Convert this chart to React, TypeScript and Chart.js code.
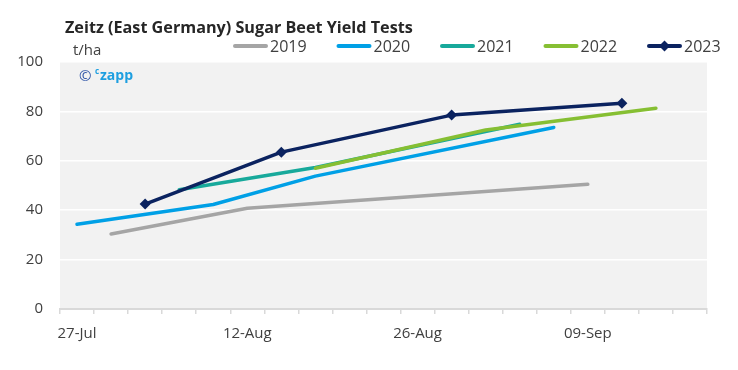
import React, { useEffect, useRef } from 'react';
import { Chart, registerables } from 'chart.js';

Chart.register(...registerables);

const categories = ['27-Jul', '', '', '', '', '12-Aug', '', '', '', '', '26-Aug', '', '', '', '', '09-Sep', '', '', ''];
const seriesNames = ['2019', '2020', '2021', '2022', '2023'];
const y2019 = [null, 30.4, null, null, null, 40.8, null, null, null, null, null, null, null, null, null, 50.5, null, null, null];
const y2020 = [34.3, null, null, null, 42.3, null, null, 53.8, null, null, null, null, null, null, 73.5, null, null, null, null];
const y2021 = [null, null, null, 48.3, null, null, null, 57.3, null, null, null, null, null, 74.8, null, null, null, null, null];
const y2022 = [null, null, null, null, null, null, null, 57.0, null, null, null, null, 72.5, null, null, null, null, 81.3, null];
const y2023 = [null, null, 42.5, null, null, null, 63.5, null, null, null, null, 78.5, null, null, null, null, 83.3, null, null];
const yTicks = [0, 20, 40, 60, 80, 100];

const colors = ['#a5a5a5', '#00a0e6', '#17a99b', '#86bf33', '#0b2360'];
const FONT = "'Open Sans', sans-serif";

const decorPlugin = {
  id: 'decor',
  beforeDraw(chart: any) {
    const { ctx, chartArea } = chart;
    ctx.save();
    ctx.fillStyle = '#f2f2f2';
    ctx.fillRect(chartArea.left, chartArea.top, chartArea.right - chartArea.left, chartArea.bottom - chartArea.top);
    ctx.restore();
  },
  afterDraw(chart: any) {
    const { ctx } = chart;
    ctx.save();
    // title
    ctx.fillStyle = '#262626';
    ctx.font = `bold 16.2px ${FONT}`;
    ctx.textBaseline = 'alphabetic';
    ctx.textAlign = 'left';
    ctx.fillText('Zeitz (East Germany) Sugar Beet Yield Tests', 65, 33);
    // unit
    ctx.fillStyle = '#404040';
    ctx.font = `15px ${FONT}`;
    ctx.fillText('t/ha', 73, 55);
    // watermark
    ctx.fillStyle = '#2f55a8';
    ctx.font = `15px ${FONT}`;
    ctx.fillText('©', 79, 81);
    ctx.fillStyle = '#1e9fe0';
    ctx.font = `bold 8px ${FONT}`;
    ctx.fillText('c', 95, 74);
    ctx.font = `bold 14px ${FONT}`;
    ctx.fillText('zapp', 100, 80);
    // legend
    const y = 46;
    chart.data.datasets.forEach((ds: any, i: number) => {
      const x0 = 233 + i * 103.5;
      ctx.strokeStyle = ds.borderColor;
      ctx.lineWidth = 4;
      ctx.lineCap = 'round';
      ctx.beginPath();
      ctx.moveTo(x0 + 2, y);
      ctx.lineTo(x0 + 33, y);
      ctx.stroke();
      if (ds.pointRadius > 0) {
        const r = 5.5;
        const cx = x0 + 17.5;
        ctx.fillStyle = ds.borderColor;
        ctx.beginPath();
        ctx.moveTo(cx, y - r);
        ctx.lineTo(cx + r, y);
        ctx.lineTo(cx, y + r);
        ctx.lineTo(cx - r, y);
        ctx.closePath();
        ctx.fill();
      }
      ctx.fillStyle = '#404040';
      ctx.font = `16px ${FONT}`;
      ctx.textBaseline = 'middle';
      ctx.fillText(ds.label, x0 + 37, y + 1);
    });
    ctx.restore();
  },
};

export default function App() {
  const canvasRef = useRef<HTMLCanvasElement>(null);
  useEffect(() => {
    const series = [y2019, y2020, y2021, y2022, y2023];
    const chart = new Chart(canvasRef.current as HTMLCanvasElement, {
      type: 'line',
      data: {
        labels: categories,
        datasets: series.map((d, i) => ({
          label: seriesNames[i],
          data: d,
          borderColor: colors[i],
          backgroundColor: colors[i],
          borderWidth: 3.5,
          borderCapStyle: 'round',
          borderJoinStyle: 'round',
          pointRadius: i === 4 ? 5.5 : 0,
          pointHoverRadius: i === 4 ? 5.5 : 0,
          pointStyle: 'rectRot',
          pointBorderWidth: 0,
          spanGaps: true,
          tension: 0,
          order: 5 - i,
        })),
      },
      options: {
        animation: false,
        responsive: false,
        maintainAspectRatio: false,
        layout: { padding: { top: 62, right: 31, left: 0, bottom: 0 } },
        plugins: { legend: { display: false }, title: { display: false }, tooltip: { enabled: false } },
        scales: {
          x: {
            type: 'category',
            offset: true,
            grid: { display: true, drawOnChartArea: false, offset: true, tickLength: 5, color: '#d9d9d9', lineWidth: 1.5 },
            border: { display: true, color: '#d9d9d9', width: 2 },
            ticks: {
              autoSkip: false,
              maxRotation: 0,
              padding: 11,
              color: '#404040',
              font: { family: FONT, size: 15 },
              callback: (_v: any, idx: number) => categories[idx],
            },
            afterFit: (s: any) => { s.height = 61; },
          },
          y: {
            min: 0,
            max: 100,
            afterBuildTicks: (s: any) => { s.ticks = yTicks.map((v) => ({ value: v })); },
            grid: { color: '#ffffff', lineWidth: 1.5, drawTicks: false },
            border: { display: false },
            ticks: { padding: 17, color: '#404040', font: { family: FONT, size: 15 } },
            afterFit: (s: any) => { s.width = 60; },
          },
        },
      },
      plugins: [decorPlugin],
    } as any);
    return () => chart.destroy();
  }, []);
  return (
    <div style={{ position: 'absolute', left: 0, top: 0, width: 738, height: 370, background: '#fff' }}>
      <canvas ref={canvasRef} width={738} height={370} style={{ width: 738, height: 370 }} />
    </div>
  );
}
